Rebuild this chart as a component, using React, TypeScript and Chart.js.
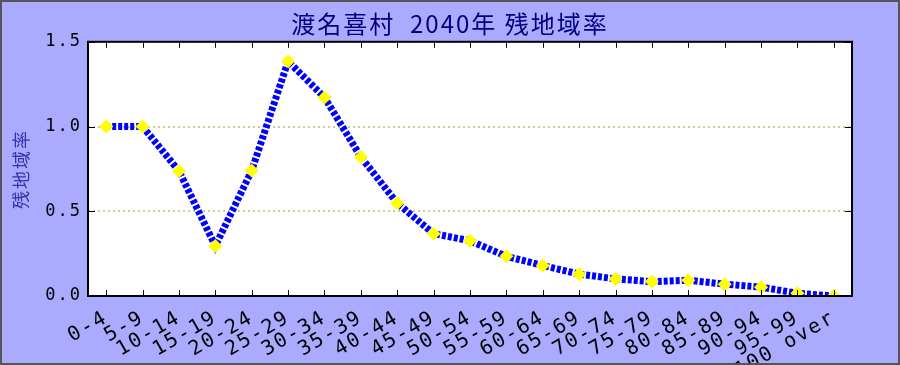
import React, { useEffect, useRef } from "react";
import { Chart, registerables } from "chart.js";

Chart.register(...registerables);

const titleText = "渡名喜村  2040年 残地域率";
const yAxisTitle = "残地域率";
const categories = [
  "0-4", "5-9", "10-14", "15-19", "20-24", "25-29", "30-34", "35-39",
  "40-44", "45-49", "50-54", "55-59", "60-64", "65-69", "70-74", "75-79",
  "80-84", "85-89", "90-94", "95-99", "100 over",
];
const values = [
  1.0, 1.0, 0.738, 0.295, 0.74, 1.385, 1.172, 0.82, 0.548, 0.368, 0.326,
  0.234, 0.18, 0.129, 0.101, 0.085, 0.093, 0.07, 0.052, 0.016, 0.0,
];
const yMin = 0;
const yMax = 1.5;
const yStep = 0.5;

const monoFont = "'DejaVu Sans Mono', 'Liberation Mono', monospace";
const cjkFont = "'Noto Sans CJK JP', 'Noto Sans', sans-serif";

const framePlugin = {
  id: "framePlugin",
  beforeUpdate(chart: any) {
    chart.ctx.letterSpacing = "2px";
  },
  beforeDraw(chart: any) {
    const ctx = chart.ctx;
    ctx.letterSpacing = "2px";
    ctx.save();
    ctx.fillStyle = "#aaaaff";
    ctx.fillRect(0, 0, chart.width, chart.height);
    const a = chart.chartArea;
    ctx.fillStyle = "#ffffff";
    ctx.fillRect(a.left, a.top, a.right - a.left, a.bottom - a.top);
    ctx.restore();
  },
  afterDraw(chart: any) {
    const ctx = chart.ctx;
    const a = chart.chartArea;
    const xs = chart.scales.x;
    const ys = chart.scales.y;
    ctx.save();
    ctx.strokeStyle = "#000000";
    ctx.lineWidth = 1;
    ctx.beginPath();
    for (let i = 0; i < xs.ticks.length; i++) {
      const px = Math.round(xs.getPixelForTick(i)) + 0.5;
      ctx.moveTo(px, a.bottom);
      ctx.lineTo(px, a.bottom - 6);
      ctx.moveTo(px, a.top);
      ctx.lineTo(px, a.top + 6);
    }
    for (let i = 0; i < ys.ticks.length; i++) {
      const py = Math.round(ys.getPixelForTick(i)) + 0.5;
      ctx.moveTo(a.left, py);
      ctx.lineTo(a.left + 7, py);
      ctx.moveTo(a.right, py);
      ctx.lineTo(a.right - 7, py);
    }
    ctx.stroke();
    ctx.lineWidth = 2;
    ctx.strokeRect(a.left, a.top, a.right - a.left, a.bottom - a.top);
    ctx.strokeStyle = "#555555";
    ctx.lineWidth = 2;
    ctx.strokeRect(1, 1, chart.width - 2, chart.height - 2);
    ctx.restore();
  },
};

export default function App() {
  const ref = useRef<HTMLCanvasElement>(null);
  useEffect(() => {
    if (!ref.current) return;
    const chart = new Chart(ref.current, {
      type: "line",
      data: {
        labels: categories,
        datasets: [
          {
            data: values,
            borderColor: "#0000ff",
            borderWidth: 7,
            borderDash: [4, 2],
            borderCapStyle: "butt",
            tension: 0,
            pointStyle: "rectRot",
            pointRadius: 7,
            pointBackgroundColor: "#ffff00",
            pointBorderColor: "#ffff00",
            pointBorderWidth: 0,
          },
        ],
      },
      options: {
        animation: false,
        responsive: false,
        maintainAspectRatio: false,
        layout: { padding: 0 },
        plugins: {
          legend: { display: false },
          tooltip: { enabled: false },
          title: {
            display: true,
            text: titleText,
            color: "#000080",
            font: { family: cjkFont, size: 24, weight: "normal" },
            padding: { top: 9, bottom: 4 },
          },
        },
        scales: {
          x: {
            type: "category",
            offset: true,
            grid: { display: false },
            border: { display: false },
            ticks: {
              color: "#000000",
              font: { family: monoFont, size: 20 },
              minRotation: 30,
              maxRotation: 30,
              autoSkip: false,
              padding: 2,
            },
            afterFit(scale: any) {
              scale.height = 69;
            },
          },
          y: {
            min: yMin,
            max: yMax,
            border: { display: false, dash: [2, 3] },
            grid: {
              color: "#cccc99",
              lineWidth: 2,
              drawTicks: false,
            },
            ticks: {
              stepSize: yStep,
              color: "#000000",
              font: { family: monoFont, size: 17 },
              padding: 6,
              callback: (v: any) => Number(v).toFixed(1),
            },
            title: {
              display: true,
              text: yAxisTitle,
              color: "#3333aa",
              font: { family: cjkFont, size: 18 },
              padding: { top: 10, bottom: 0 },
            },
            afterFit(scale: any) {
              scale.width = 88;
            },
          },
          yRight: {
            position: "right",
            min: yMin,
            max: yMax,
            grid: { display: false, drawTicks: false },
            border: { display: false },
            ticks: { display: false },
            afterFit(scale: any) {
              scale.width = 48;
            },
          },
        },
      },
      plugins: [framePlugin],
    } as any);
    return () => chart.destroy();
  }, []);
  return (
    <div style={{ position: "fixed", left: 0, top: 0, width: 900, height: 365 }}>
      <canvas ref={ref} width={900} height={365} style={{ width: 900, height: 365, display: "block" }} />
    </div>
  );
}
